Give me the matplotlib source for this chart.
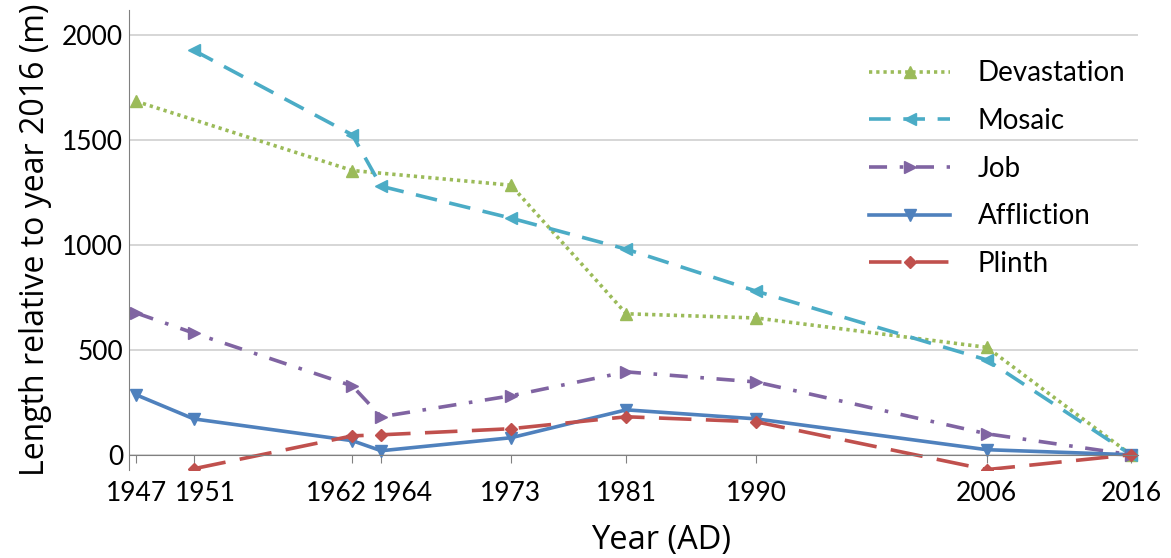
import numpy as np
import matplotlib.pyplot as plt
from matplotlib.transforms import ScaledTranslation

years = [1947, 1951, 1962, 1964, 1973, 1981, 1990, 2006, 2016]

# length relative to 2016 (m); None where a glacier has no survey
devastation = [1685, None, 1355, None, 1285, 672, 652, 512, 0]
mosaic = [None, 1928, 1525, 1280, 1128, 980, 780, 452, 0]
job = [676, 580, 328, 181, 281, 395, 347, 100, 0]
affliction = [286, 171, 67, 19, 81, 214, 171, 24, 0]
plinth = [None, -67, 90, 95, 124, 181, 157, -71, 0]

def pts(vals):
    xs = [y for y, v in zip(years, vals) if v is not None]
    vs = [v for v in vals if v is not None]
    return xs, vs

fig, ax = plt.subplots(figsize=(11.71, 5.58), dpi=100)
fig.subplots_adjust(left=0.110, right=0.972, top=0.982, bottom=0.158)

lw = 2.6
x, v = pts(devastation)
ax.plot(x, v, color="#9BBB59", lw=lw, ls=(0, (0.9, 1.1)), marker="^", ms=8,
        label="Devastation")
x, v = pts(mosaic)
ax.plot(x, v, color="#4BACC6", lw=lw, ls=(0, (6, 3.5)), marker="<", ms=8,
        label="Mosaic")
x, v = pts(job)
ax.plot(x, v, color="#8064A2", lw=lw, ls=(0, (5, 3.5, 1, 3.5)), marker=">", ms=8,
        label="Job")
x, v = pts(affliction)
ax.plot(x, v, color="#4F81BD", lw=lw, ls="-", marker="v", ms=8,
        label="Affliction")
x, v = pts(plinth)
ax.plot(x, v, color="#C0504D", lw=lw, ls=(0, (9, 4)), marker="D", ms=6,
        label="Plinth")

ax.set_xlim(1946.5, 2016.5)
ax.set_ylim(-72, 2120)
ax.set_yticks([0, 500, 1000, 1500, 2000])
ax.set_xticks(years)
ax.grid(axis="y", color="#D0D0D0", lw=1.2)
ax.set_axisbelow(True)

for s in ["top", "right"]:
    ax.spines[s].set_visible(False)
ax.spines["left"].set_color("#808080")
ax.spines["bottom"].set_color("#808080")
ax.spines["bottom"].set_position(("data", 0))

ax.tick_params(axis="y", length=0, pad=4, labelsize=19)
ax.tick_params(axis="x", length=6, color="#808080", direction="out",
               pad=13, labelsize=19)
for t in ax.get_xticklabels() + ax.get_yticklabels():
    t.set_fontfamily("Lato")

# crowded years: nudge their labels apart
xticks = ax.xaxis.get_major_ticks()
for i, dx in [(1, 12), (2, -16), (3, 21)]:
    lab = xticks[i].label1
    lab.set_transform(lab.get_transform() + ScaledTranslation(dx / 100, 0, fig.dpi_scale_trans))

ax.set_xlabel("Year (AD)", fontsize=23.5, fontfamily="Open Sans")
ax.xaxis.set_label_coords(0.527, -0.117)
ax.set_ylabel("Length relative to year 2016 (m)", fontsize=23,
              fontfamily="Open Sans", labelpad=7)

leg = ax.legend(loc="upper right", bbox_to_anchor=(1.012, 0.945), frameon=False,
                prop={"family": "Lato", "size": 20}, handlelength=2.9,
                handletextpad=1.0, labelspacing=0.78)

plt.savefig("out.png")
